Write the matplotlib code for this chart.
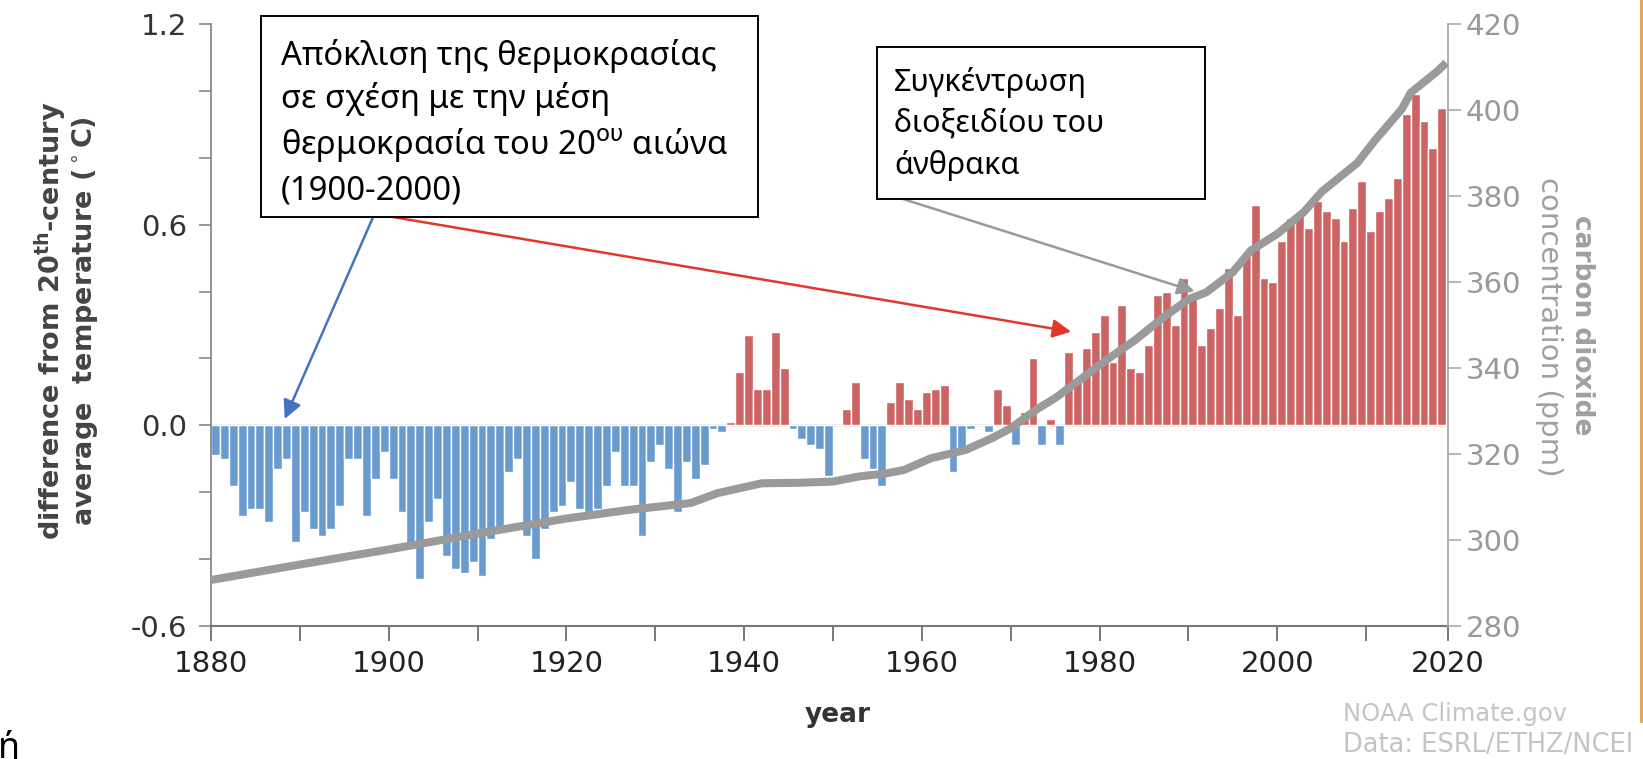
import numpy as np
import matplotlib.pyplot as plt
from matplotlib.patches import Rectangle
from matplotlib.lines import Line2D

plt.rcParams['font.family'] = ['DejaVu Sans']

# ---- data ----
years = np.arange(1880, 2019)
anomaly = np.array([
    -0.09, -0.10, -0.18, -0.27, -0.25, -0.25, -0.29, -0.13, -0.10, -0.35,   # 1880s
    -0.26, -0.31, -0.33, -0.31, -0.24, -0.10, -0.10, -0.27, -0.16, -0.08,   # 1890s
    -0.16, -0.26, -0.37, -0.46, -0.29, -0.22, -0.39, -0.43, -0.44, -0.41,   # 1900s
    -0.45, -0.34, -0.32, -0.14, -0.10, -0.33, -0.40, -0.31, -0.26, -0.24,   # 1910s
    -0.17, -0.25, -0.26, -0.25, -0.18, -0.08, -0.18, -0.18, -0.33, -0.11,   # 1920s
    -0.06, -0.13, -0.26, -0.11, -0.16, -0.12, -0.01, -0.02, 0.01, 0.16,     # 1930s
    0.27, 0.11, 0.11, 0.28, 0.17, -0.01, -0.04, -0.06, -0.07, -0.15,        # 1940s
    0.00, 0.05, 0.13, -0.10, -0.13, -0.18, 0.07, 0.13, 0.08, 0.05,          # 1950s
    0.10, 0.11, 0.12, -0.14, -0.07, -0.01, 0.00, -0.02, 0.11, 0.06,         # 1960s
    -0.06, 0.04, 0.20, -0.06, 0.02, -0.06, 0.22, 0.13, 0.23, 0.28,          # 1970s
    0.33, 0.19, 0.36, 0.17, 0.16, 0.24, 0.39, 0.40, 0.30, 0.44,             # 1980s
    0.39, 0.24, 0.29, 0.35, 0.47, 0.33, 0.51, 0.66, 0.44, 0.43,             # 1990s
    0.55, 0.62, 0.63, 0.59, 0.67, 0.64, 0.62, 0.55, 0.65, 0.73,             # 2000s
    0.58, 0.64, 0.68, 0.74, 0.93, 0.99, 0.91, 0.83, 0.95,                   # 2010s
])

co2_years = [1880, 1890, 1900, 1910, 1920, 1927, 1934, 1937, 1942, 1946, 1950,
             1953, 1956, 1958, 1961, 1965, 1968, 1970, 1973, 1975, 1978, 1981,
             1984, 1987, 1990, 1992, 1995, 1997, 2000, 2003, 2005, 2009, 2011,
             2014, 2015, 2018, 2019]
co2_ppm = [290.7, 294.3, 297.8, 301.5, 305.0, 307.0, 308.6, 310.9, 313.2, 313.3, 313.6,
           314.8, 315.5, 316.3, 319.0, 321.0, 323.8, 326.0, 330.5, 333.0, 337.6, 342.2,
           346.5, 351.5, 356.0, 357.6, 362.3, 367.3, 371.2, 376.3, 381.0, 387.7, 393.0,
           400.2, 404.0, 409.0, 411.0]

x_end = 2019.2                      # where the year axis stops (labelled 2020)
x_ticks = list(range(1880, 2011, 10)) + [x_end]
x_labels = ['1880', '', '1900', '', '1920', '', '1940', '', '1960', '', '1980', '', '2000', '', '2020']
t_ticks = np.round(np.arange(-0.6, 1.21, 0.2), 1)
t_labels = ['-0.6', '', '', '0.0', '', '', '0.6', '', '', '1.2']
c_ticks = np.arange(280, 421, 20)

red = '#cd6464'
blue = '#6a9bcf'
grey_line = '#9a9a9a'

fig = plt.figure(figsize=(16.43, 7.59), dpi=100)
ax = fig.add_axes([0.1284, 0.1752, 0.7529, 0.7932])

cols = [red if v >= 0 else blue for v in anomaly]
ax.bar(years, anomaly, width=1.0, align='edge', color=cols, edgecolor='white', linewidth=1.0, zorder=2)
ax.axhline(0, color='#999999', lw=1, zorder=1)

ax.set_xlim(1880, x_end)
ax.set_ylim(-0.6, 1.2)
ax.set_xticks(x_ticks)
ax.set_xticklabels(x_labels)
ax.set_yticks(t_ticks)
ax.set_yticklabels(t_labels)
for s in ('top', 'right'):
    ax.spines[s].set_visible(False)
ax.spines['left'].set_color('#888888')
ax.spines['bottom'].set_color('#777777')
ax.spines['left'].set_linewidth(1.3)
ax.spines['bottom'].set_linewidth(1.5)
ax.tick_params(axis='y', length=9, width=1.2, color='#888888', labelsize=21, labelcolor='#333333', pad=8)
ax.tick_params(axis='x', length=11, width=1.4, color='#777777', labelsize=21, labelcolor='#222222', pad=6)

ax2 = ax.twinx()
ax2.plot(co2_years, co2_ppm, color=grey_line, lw=5.8, solid_capstyle='butt', zorder=3)
ax2.set_ylim(280, 420)
ax2.set_yticks(c_ticks)
for s in ('top', 'left', 'bottom'):
    ax2.spines[s].set_visible(False)
ax2.spines['right'].set_color('#aaaaaa')
ax2.spines['right'].set_linewidth(1.3)
ax2.tick_params(axis='y', length=9, width=1.2, color='#aaaaaa', labelsize=21, labelcolor='#999999', pad=4)

# axis titles
fig.text(0.031, 0.577, 'difference from 20$^{\\mathbf{th}}$-century', rotation=90,
         ha='center', va='center', fontsize=19.5, fontweight='bold', color='#444444')
fig.text(0.052, 0.577, 'average  temperature ($^\\circ$C)', rotation=90,
         ha='center', va='center', fontsize=19.5, fontweight='bold', color='#444444')
fig.text(0.963, 0.572, 'carbon dioxide', rotation=270, ha='center', va='center',
         fontsize=19, fontweight='bold', color='#a0a0a0')
fig.text(0.943, 0.569, 'concentration (ppm)', rotation=270, ha='center', va='center',
         fontsize=21, color='#a0a0a0')
fig.text(0.51, 0.058, 'year', ha='center', va='center', fontsize=19, fontweight='bold', color='#333333')

# credit
fig.text(0.8175, 0.059, 'NOAA Climate.gov', ha='left', va='center', fontsize=17.5, color='#c4c4c4')
fig.text(0.8175, 0.019, 'Data: ESRL/ETHZ/NCEI', ha='left', va='center', fontsize=18.5, color='#c4c4c4')
fig.add_artist(Line2D([0.9985, 0.9985], [0.05, 1.0], transform=fig.transFigure, color='#e8a040', lw=2.0))
fig.text(-0.001, -0.01, 'ή', ha='left', va='bottom', fontsize=26, family=['Noto Sans'], color='black')

# callout boxes
W, H = 1643.0, 759.0
def box(x0, y0, x1, y1):
    fig.add_artist(Rectangle((x0 / W, 1 - y1 / H), (x1 - x0) / W, (y1 - y0) / H,
                             transform=fig.transFigure, facecolor='white',
                             edgecolor='black', lw=1.4, zorder=5))

box(261, 16, 758, 217)
fig.text(281 / W, 1 - 39 / H, 'Απόκλιση της θερμοκρασίας\nσε σχέση με την μέση\n'
         'θερμοκρασία του 20$^{\\mathrm{ου}}$ αιώνα\n(1900-2000)',
         ha='left', va='top', fontsize=23.6, family=['Noto Sans'], linespacing=1.36, zorder=6)
box(877, 47, 1205, 199)
fig.text(894 / W, 1 - 67 / H, 'Συγκέντρωση\nδιοξειδίου του\nάνθρακα',
         ha='left', va='top', fontsize=22, family=['Noto Sans'], linespacing=1.45, zorder=6)

# arrows
ax2.annotate('', xy=(1888.3, ax2.get_ylim()[0] + (0.019 + 0.6) / 1.8 * 140), xycoords='data',
             xytext=(374 / W, 1 - 215 / H), textcoords='figure fraction',
             arrowprops=dict(arrowstyle='-|>', color='#4472c4', lw=1.8, mutation_scale=28,
                             shrinkA=0, shrinkB=0), annotation_clip=False, zorder=7)
ax2.annotate('', xy=(1976.8, ax2.get_ylim()[0] + (0.28 + 0.6) / 1.8 * 140), xycoords='data',
             xytext=(381 / W, 1 - 215 / H), textcoords='figure fraction',
             arrowprops=dict(arrowstyle='-|>', color='#e0392b', lw=1.8, mutation_scale=28,
                             shrinkA=0, shrinkB=0), annotation_clip=False, zorder=7)
ax2.annotate('', xy=(1990.7, 357.8), xycoords='data',
             xytext=(903 / W, 1 - 199 / H), textcoords='figure fraction',
             arrowprops=dict(arrowstyle='-|>', color='#999999', lw=1.8, mutation_scale=26,
                             shrinkA=0, shrinkB=0), annotation_clip=False, zorder=7)

fig.savefig('out.png', dpi=100, facecolor='white')
